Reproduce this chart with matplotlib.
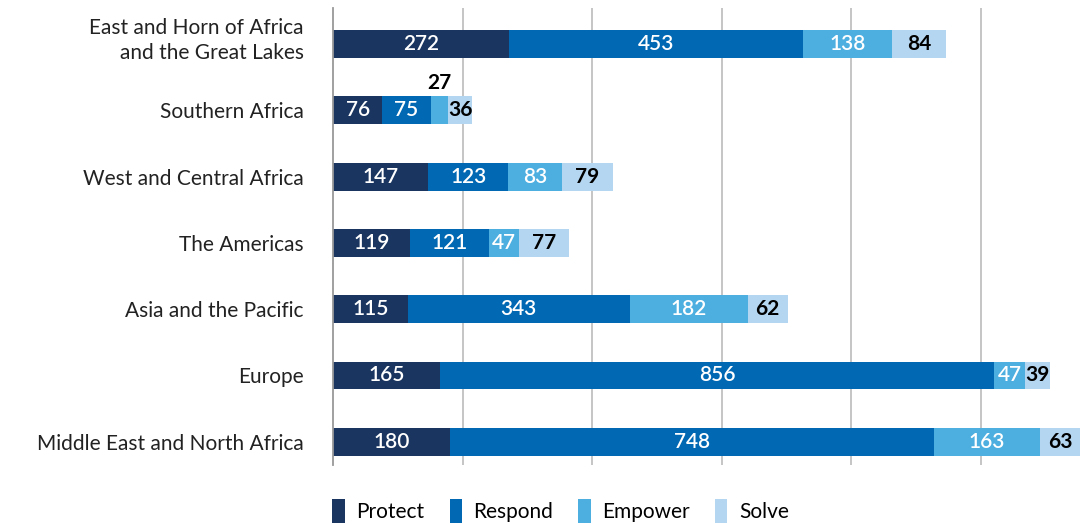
import matplotlib
matplotlib.use("Agg")
import matplotlib.pyplot as plt
import matplotlib.transforms as mtransforms
from matplotlib.patches import Patch
import numpy as np

regions = [
    "East and Horn of Africa\nand the Great Lakes",
    "Southern Africa",
    "West and Central Africa",
    "The Americas",
    "Asia and the Pacific",
    "Europe",
    "Middle East and North Africa",
]
protect = [272, 76, 147, 119, 115, 165, 180]
respond = [453, 75, 123, 121, 343, 856, 748]
empower = [138, 27, 83, 47, 182, 47, 163]
solve = [84, 36, 79, 77, 62, 39, 63]

series_names = ["Protect", "Respond", "Empower", "Solve"]
COLORS = ["#1a3660", "#0168b3", "#4daee0", "#b5d6f0"]
TEXT_COLORS = ["white", "white", "white", "black"]
TEXT_WEIGHT = [600, 600, 600, "bold"]

plt.rcParams["font.family"] = ["Lato", "DejaVu Sans"]
FS = 15

fig = plt.figure(figsize=(10.85, 5.24), dpi=100)
ax = fig.add_axes([0.307, 0.1126, 0.693, 0.8724])

y = np.arange(len(regions))
left = np.zeros(len(regions))
for k, vals in enumerate([protect, respond, empower, solve]):
    vals = np.array(vals, dtype=float)
    ax.barh(y, vals, left=left, height=0.42, color=COLORS[k], zorder=2)
    for i, v in enumerate(vals):
        cx = left[i] + v / 2
        if k == 2 and v < 30:
            # too narrow: label above the segment
            ax.text(cx, y[i] - 0.41, f"{int(v)}", ha="center", va="center",
                    fontsize=FS, color="black", fontweight="bold", zorder=3)
        else:
            ax.text(cx, y[i], f"{int(v)}", ha="center", va="center",
                    fontsize=FS, color=TEXT_COLORS[k],
                    fontweight=TEXT_WEIGHT[k], zorder=3)
    left += vals

ax.set_xlim(0, 1161)
ax.set_ylim(len(regions) - 1 + 0.35, -0.545)
ax.set_xticks([200, 400, 600, 800, 1000])
ax.set_xticklabels([])
ax.tick_params(axis="x", length=0)
ax.tick_params(axis="y", length=0, pad=21)
ax.set_yticks(y)
ax.set_yticklabels(regions, fontsize=FS, color="#222222", linespacing=1.35)
# two-line label sits a little above its bar in the original
lbl = ax.get_yticklabels()[0]
lbl.set_transform(lbl.get_transform()
                  + mtransforms.ScaledTranslation(0, 6 / 72, fig.dpi_scale_trans))
ax.xaxis.grid(True, color="#b5b5b5", linewidth=1.1, zorder=0)
ax.set_axisbelow(True)
for s in ["top", "right", "bottom"]:
    ax.spines[s].set_visible(False)
ax.spines["left"].set_color("#999999")
ax.spines["left"].set_linewidth(1.3)

handles = [Patch(facecolor=c, edgecolor="none") for c in COLORS]
fig.legend(handles, series_names, loc="center left", bbox_to_anchor=(0.293, 0.025),
           ncol=4, frameon=False, fontsize=FS, handlelength=0.6, handleheight=1.4,
           handletextpad=0.55, columnspacing=1.2, borderpad=0.2)

fig.savefig("out.png", dpi=100)
